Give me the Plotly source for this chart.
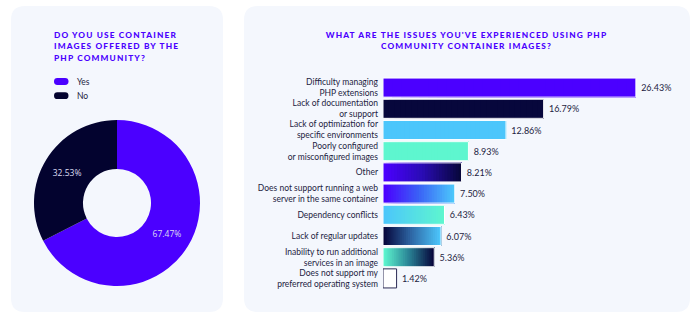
import json
import plotly.graph_objects as go
from plotly.colors import sample_colorscale, make_colorscale

W, H = 696, 323

# ---------------- data ----------------
pie_labels = ["Yes", "No"]
pie_values = [67.47, 32.53]
pie_colors = ["#4b00ff", "#03032f"]

issue_labels = [
    "Difficulty managing<br>PHP extensions",
    "Lack of documentation<br>or support",
    "Lack of optimization for<br>specific environments",
    "Poorly configured<br>or misconfigured images",
    "Other",
    "Does not support running a web<br>server in the same container",
    "Dependency conflicts",
    "Lack of regular updates",
    "Inability to run additional<br>services in an image",
    "Does not support my<br>preferred operating system",
]
issue_values = [26.43, 16.79, 12.86, 8.93, 8.21, 7.50, 6.43, 6.07, 5.36, 1.42]

# fill styles (colour stops left -> right)
PURPLE, NAVY, SKY, AQUA = "#4b00ff", "#07073c", "#4cc6fb", "#5ef6cf"
issue_fills = [
    [PURPLE, PURPLE],
    [NAVY, NAVY],
    [SKY, SKY],
    [AQUA, AQUA],
    [PURPLE, "#2a0cb4", NAVY],
    [PURPLE, "#3a62f6", SKY],
    [SKY, AQUA],
    [NAVY, "#2f6aa8", SKY],
    [AQUA, "#2a8496", NAVY],
    ["#ffffff", "#ffffff"],
]
issue_outline = ["#ffffff"] * 9 + ["#2b2b55"]

left_title = ["DO YOU USE CONTAINER", "IMAGES OFFERED BY THE", "PHP COMMUNITY?"]
right_title = ["WHAT ARE THE ISSUES YOU'VE EXPERIENCED USING PHP", "COMMUNITY CONTAINER IMAGES?"]

TXT = "#1d1d42"


def px(x):
    return x / W


def py(y):
    return 1 - y / H


def rrect(x0, y0, x1, y1, r):
    pts = [
        ("M", [(x0 + r, y0)]), ("L", [(x1 - r, y0)]), ("Q", [(x1, y0), (x1, y0 + r)]),
        ("L", [(x1, y1 - r)]), ("Q", [(x1, y1), (x1 - r, y1)]), ("L", [(x0 + r, y1)]),
        ("Q", [(x0, y1), (x0, y1 - r)]), ("L", [(x0, y0 + r)]), ("Q", [(x0, y0), (x0 + r, y0)]),
    ]
    s = ""
    for cmd, ps in pts:
        s += cmd + " " + " ".join(f"{px(a):.5f},{py(b):.5f}" for a, b in ps) + " "
    return s + "Z"


fig = go.Figure()

# ---------------- donut ----------------
fig.add_trace(go.Pie(
    labels=pie_labels, values=pie_values, hole=0.41, sort=False,
    direction="clockwise", rotation=0,
    marker=dict(colors=pie_colors, line=dict(width=0)),
    texttemplate="%{value:.2f}%", textposition="inside",
    insidetextorientation="horizontal",
    textfont=dict(family="Open Sans", size=8.5, color="#dcdcf2"),
    domain=dict(x=[px(34), px(200)], y=[py(286), py(120)]),
    showlegend=False, hoverinfo="label+value",
))

# ---------------- bars (gradient drawn as overlapping segments) ----------------
N = 28
seg_colors = [sample_colorscale(make_colorscale(st), [i / (N - 1) for i in range(N)]) for st in issue_fills]
for i in range(N):
    fig.add_trace(go.Bar(
        y=issue_labels,
        x=[v * (1 - i / N) for v in issue_values],
        base=[v * i / N for v in issue_values],
        orientation="h",
        marker=dict(color=[c[i] for c in seg_colors], line=dict(width=0)),
        xaxis="x", yaxis="y", showlegend=False, hoverinfo="skip",
    ))

fig.add_trace(go.Bar(
    y=issue_labels, x=issue_values, base=[0] * len(issue_values), orientation="h",
    marker=dict(color="rgba(0,0,0,0)", line=dict(color=issue_outline, width=1)),
    texttemplate=" %{x:.2f}%", textposition="outside", cliponaxis=False,
    textfont=dict(family="Lato", size=9, color=TXT),
    xaxis="x", yaxis="y", showlegend=False,
))

shapes = [
    dict(type="path", path=rrect(11, 6, 223, 312, 14), xref="paper", yref="paper",
         fillcolor="#f4f7fd", line=dict(width=0), layer="below"),
    dict(type="path", path=rrect(244, 6, 690, 312, 14), xref="paper", yref="paper",
         fillcolor="#f4f7fd", line=dict(width=0), layer="below"),
]
annotations = []

# legend (pills + labels)
for k, (lab, col) in enumerate(zip(pie_labels, pie_colors)):
    yc = 81.5 + k * 14.2
    shapes.append(dict(type="path", path=rrect(54, yc - 3.4, 68.5, yc + 3.4, 3.4),
                       xref="paper", yref="paper", fillcolor=col, line=dict(width=0)))
    annotations.append(dict(x=px(75), y=py(yc), xref="paper", yref="paper", text=lab,
                            showarrow=False, xanchor="left", yanchor="middle",
                            font=dict(family="Lato", size=8.5, color=TXT)))

title_font = dict(family="Lato", size=8.3, color="#4b00ff", weight=900)
targets = {}
for k, line in enumerate(left_title):
    annotations.append(dict(x=px(54), y=py(34.7 + k * 11.6), xref="paper", yref="paper",
                            text=line, showarrow=False, xanchor="left", yanchor="middle",
                            font=title_font))
    targets[line] = ["left", 54]
for k, line in enumerate(right_title):
    annotations.append(dict(x=px(466.5), y=py(34.7 + k * 11.1), xref="paper", yref="paper",
                            text=line, showarrow=False, xanchor="center", yanchor="middle",
                            font=title_font))
    targets[line] = ["center", 466.5]

fig.update_layout(
    width=W, height=H, margin=dict(l=0, r=0, t=0, b=0),
    paper_bgcolor="#ffffff", plot_bgcolor="rgba(0,0,0,0)",
    barmode="overlay", bargap=0.1,
    xaxis=dict(domain=[px(383), px(670)], range=[0, 30], visible=False, fixedrange=True),
    yaxis=dict(domain=[py(289), py(77)], type="category", categoryarray=issue_labels,
               autorange="reversed", showgrid=False, zeroline=False, showline=False,
               ticks="", ticklabelstandoff=4,
               tickfont=dict(family="Lato", size=8.5, color=TXT)),
    shapes=shapes, annotations=annotations,
)

post = """
var T = %s;
var gd = document.getElementById('{plot_id}');
var root = gd.getBoundingClientRect();
gd.querySelectorAll('.annotation-text').forEach(function(t){
  var s = (t.textContent || '').trim();
  if (!(s in T)) return;
  t.style.letterSpacing = '1.15px';
  var r = t.getBoundingClientRect();
  var dx;
  if (T[s][0] === 'left') { dx = T[s][1] - (r.left - root.left); }
  else { dx = T[s][1] - ((r.left + r.right) / 2 - root.left); }
  var tr = t.getAttribute('transform') || '';
  t.setAttribute('transform', tr + ' translate(' + dx + ',0)');
});
""" % json.dumps(targets)
fig.write_html("out.html", post_script=post)
